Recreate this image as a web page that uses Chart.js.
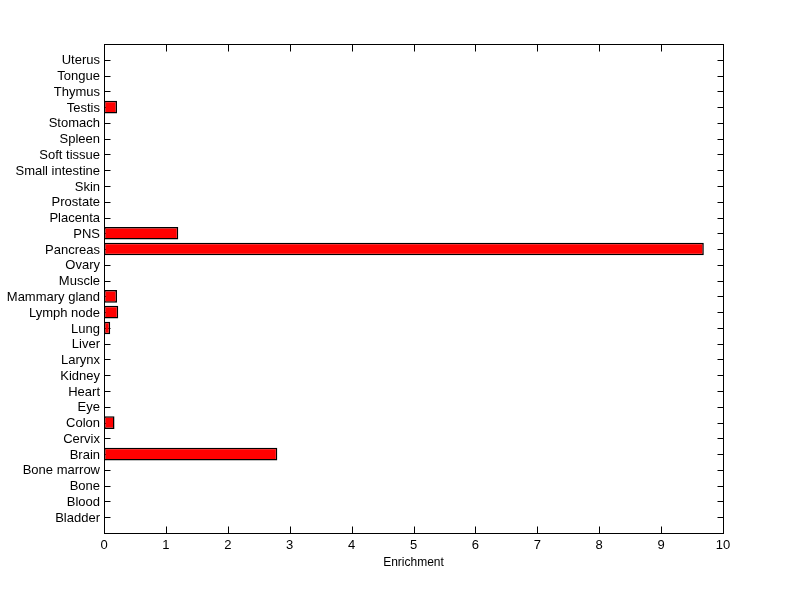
<!DOCTYPE html>
<html>
<head>
<meta charset="utf-8">
<script src="https://cdn.jsdelivr.net/npm/chart.js@4"></script>
<style>
  html, body { margin: 0; padding: 0; background: #fff; }
  #wrap { width: 800px; height: 599px; }
</style>
</head>
<body>
<div id="wrap"><canvas id="chart"></canvas></div>
<script>
// bottom to top, as in the original figure
const tissues = ['Bladder', 'Blood', 'Bone', 'Bone marrow', 'Brain', 'Cervix', 'Colon', 'Eye',
    'Heart', 'Kidney', 'Larynx', 'Liver', 'Lung', 'Lymph node', 'Mammary gland', 'Muscle',
    'Ovary', 'Pancreas', 'PNS', 'Placenta', 'Prostate', 'Skin', 'Small intestine',
    'Soft tissue', 'Spleen', 'Stomach', 'Testis', 'Thymus', 'Tongue', 'Uterus'];
const enrichment = [0, 0, 0, 0, 2.8, 0, 0.17, 0,
    0, 0, 0, 0, 0.1, 0.23, 0.21, 0,
    0, 9.69, 1.2, 0, 0, 0, 0,
    0, 0, 0, 0.21, 0, 0, 0];
const xTicks = [0, 1, 2, 3, 4, 5, 6, 7, 8, 9, 10];

// empty slot at each end gives the one-unit margin matlab leaves
const labels = ['', ...tissues, ''];
const values = [null, ...enrichment, null];

const FONT = { family: '"Liberation Sans", Arial, sans-serif', size: 13 };

function edges(a) {
    return {
        L: Math.round(a.left) + 0.5, R: Math.round(a.right) + 0.5,
        T: Math.round(a.top) + 0.5, B: Math.round(a.bottom) + 0.5
    };
}

// inward tick marks under the bars, box on top
const matlabAxes = {
    id: 'matlabAxes',
    beforeDatasetsDraw(chart) {
        const { ctx, chartArea, scales: { x, y } } = chart;
        const { L, R, T, B } = edges(chartArea);
        ctx.save();
        ctx.strokeStyle = '#000';
        ctx.lineWidth = 1;
        ctx.beginPath();
        x.ticks.forEach(t => {
            const px = Math.round(x.getPixelForValue(t.value)) + 0.5;
            ctx.moveTo(px, B); ctx.lineTo(px, B - 7);
            ctx.moveTo(px, T); ctx.lineTo(px, T + 7);
        });
        labels.forEach((lab, i) => {
            if (!lab) return;
            const py = Math.round(y.getPixelForValue(i)) + 0.5;
            ctx.moveTo(L, py); ctx.lineTo(L + 6, py);
            ctx.moveTo(R, py); ctx.lineTo(R - 6, py);
        });
        ctx.stroke();
        ctx.restore();
    },
    afterDraw(chart) {
        const { ctx, chartArea } = chart;
        const { L, R, T, B } = edges(chartArea);
        ctx.save();
        ctx.strokeStyle = '#000';
        ctx.lineWidth = 1;
        ctx.strokeRect(L, T, R - L, B - T);
        ctx.restore();
    }
};

const ctx = document.getElementById('chart').getContext('2d');
new Chart(ctx, {
    type: 'bar',
    data: {
        labels: labels,
        datasets: [{
            label: 'Enrichment',
            data: values,
            backgroundColor: '#ff0000',
            borderColor: '#000',
            borderWidth: c => (c.raw ? 1.5 : 0),
            borderSkipped: false,
            categoryPercentage: 0.8,
            barPercentage: 1
        }]
    },
    options: {
        indexAxis: 'y',
        responsive: true,
        maintainAspectRatio: false,
        animation: false,
        layout: { padding: { top: 44, right: 77, bottom: 0, left: 0 } },
        plugins: {
            legend: { display: false },
            tooltip: { enabled: false }
        },
        scales: {
            x: {
                type: 'linear',
                min: 0,
                max: 10,
                afterBuildTicks: s => { s.ticks = xTicks.map(v => ({ value: v })); },
                afterFit: s => { s.height = 66; },
                grid: { display: false, drawTicks: false },
                border: { display: false },
                ticks: { color: '#000', font: FONT, padding: 5, maxRotation: 0 },
                title: {
                    display: true,
                    text: 'Enrichment',
                    color: '#000',
                    font: { family: FONT.family, size: 12 },
                    padding: { top: 0, bottom: 29 }
                }
            },
            y: {
                type: 'category',
                reverse: true,
                offset: false,
                afterFit: s => { s.width = 104; },
                grid: { display: false, drawTicks: false },
                border: { display: false },
                ticks: { color: '#000', font: FONT, padding: 4, autoSkip: false, labelOffset: 1 }
            }
        }
    },
    plugins: [matlabAxes]
});
</script>
</body>
</html>
